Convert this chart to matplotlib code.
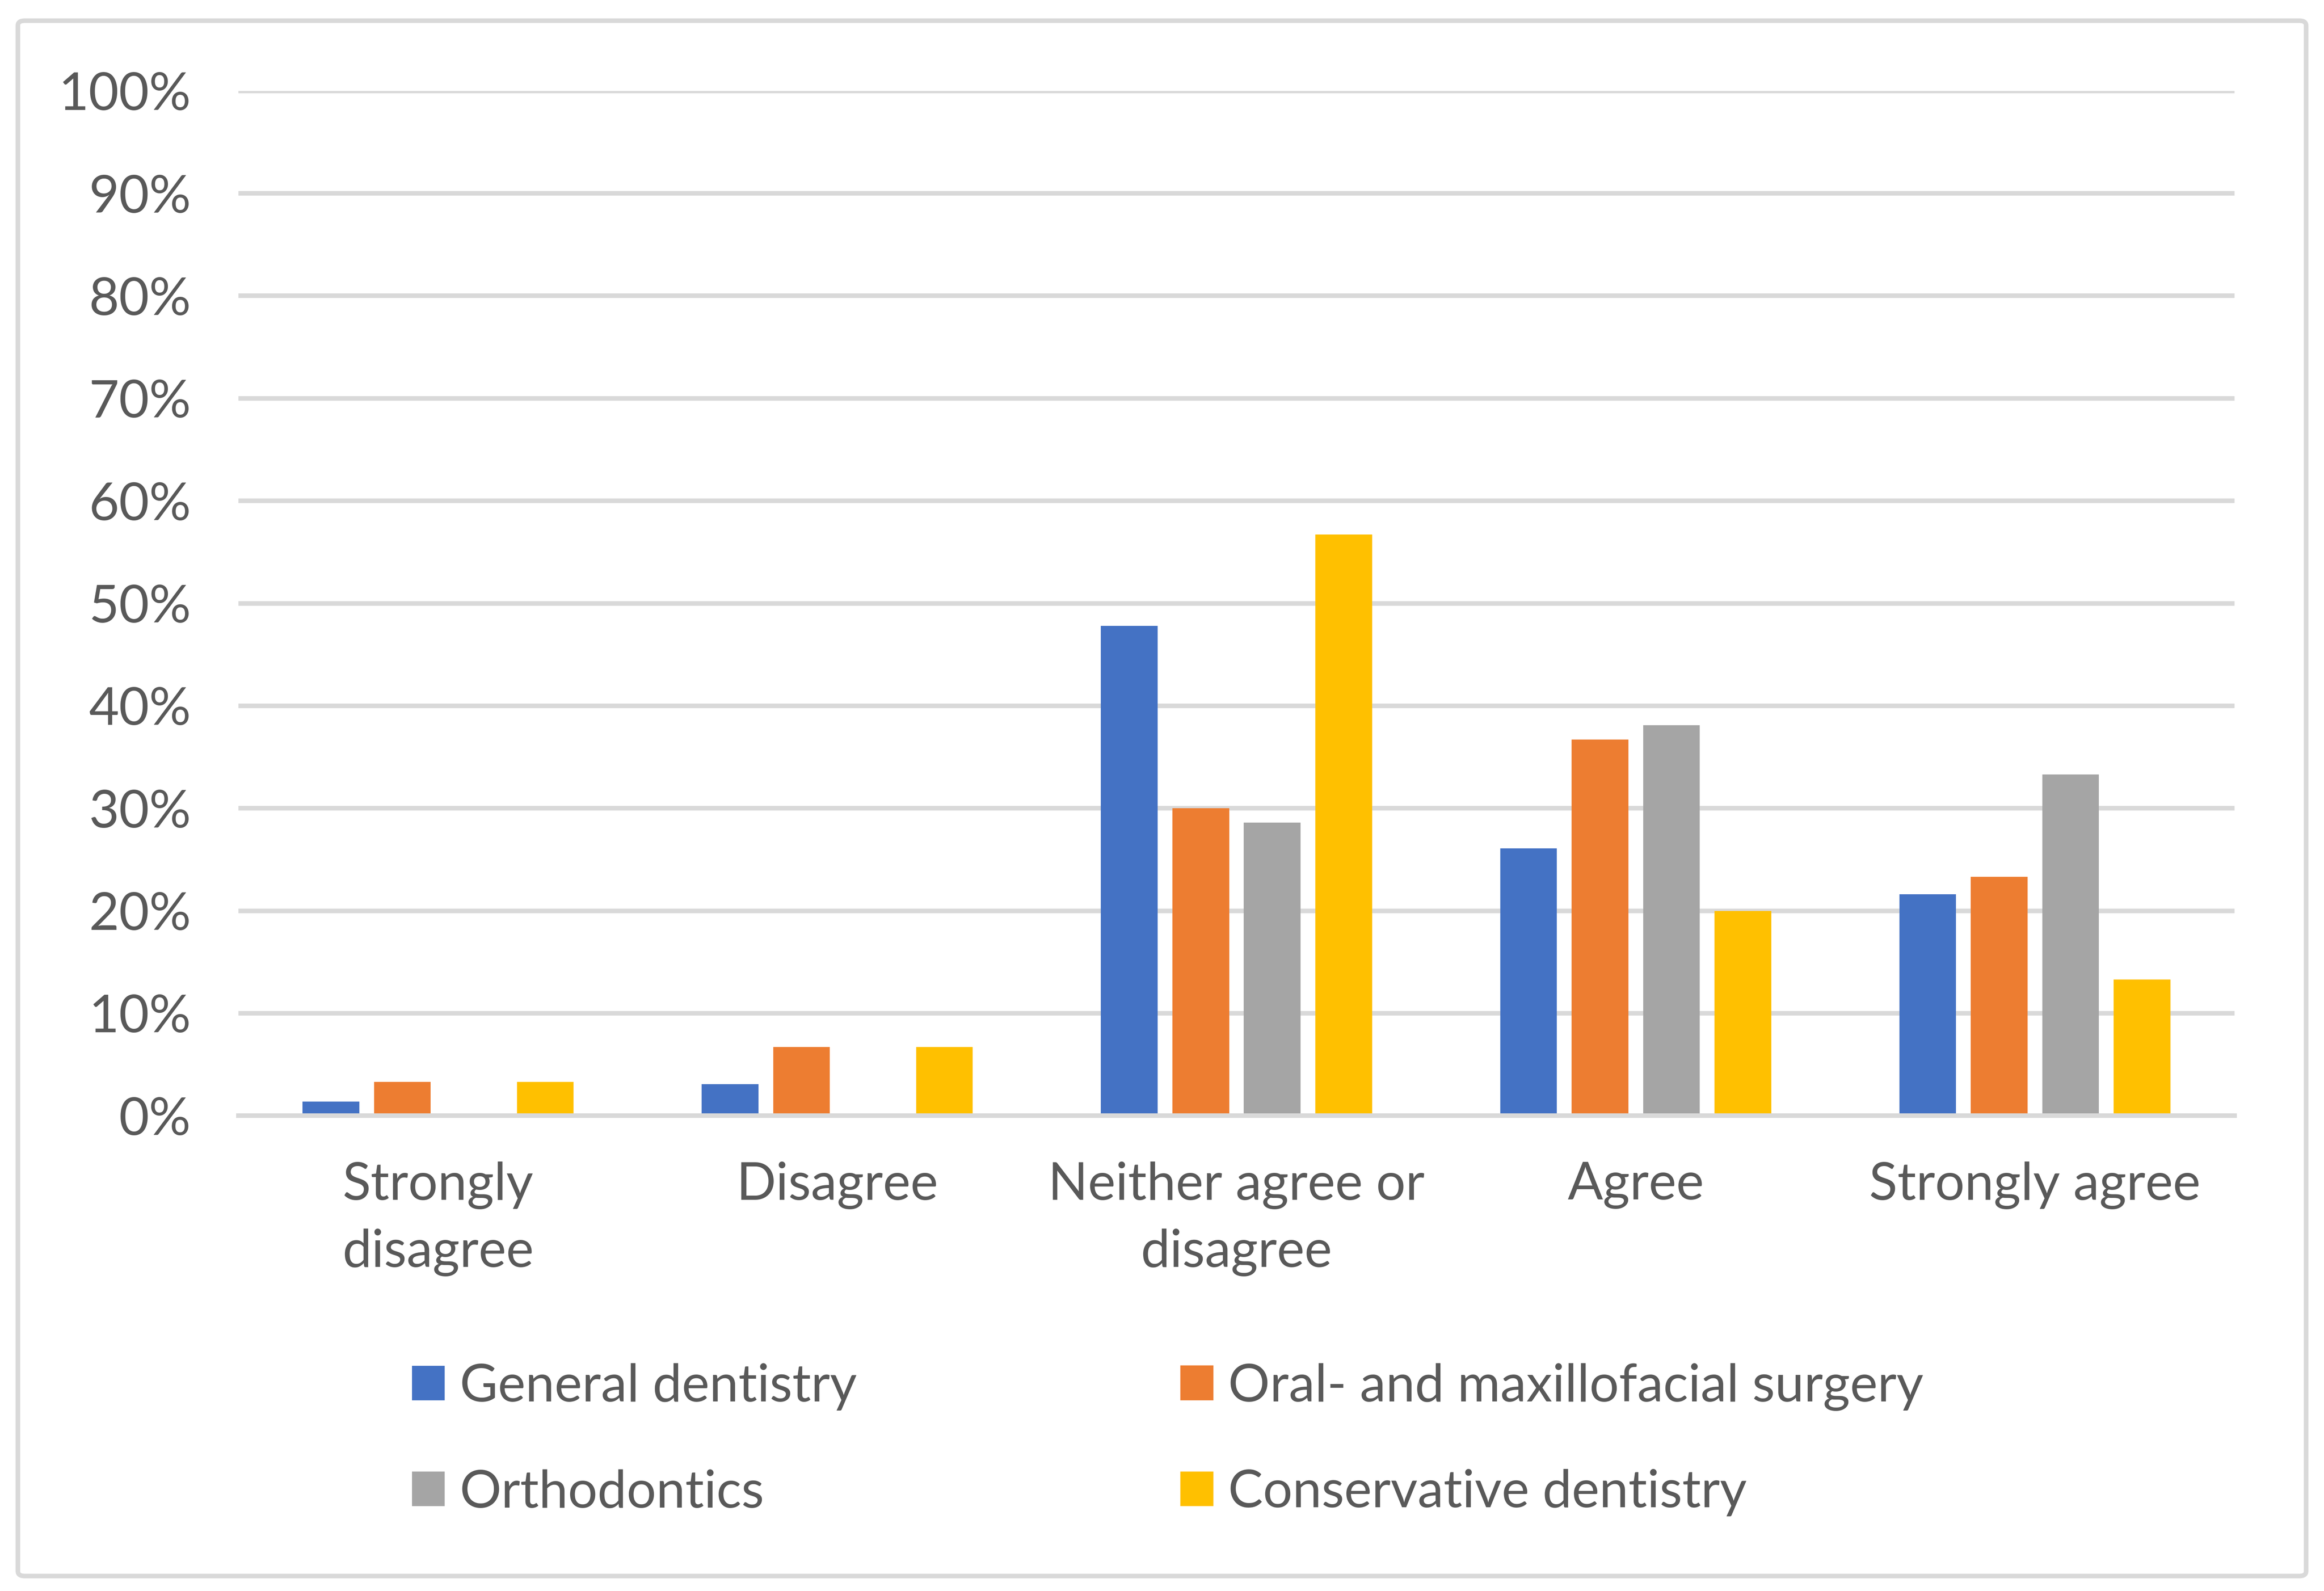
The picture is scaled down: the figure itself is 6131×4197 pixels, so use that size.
import numpy as np
from matplotlib import pyplot as plt
from matplotlib.patches import FancyBboxPatch, Patch
from matplotlib.ticker import PercentFormatter

categories = ['Strongly\ndisagree', 'Disagree', 'Neither agree or\ndisagree',
              'Agree', 'Strongly agree']
series = ['General dentistry', 'Oral- and maxillofacial surgery',
          'Orthodontics', 'Conservative dentistry']
general = [1.4, 3.1, 47.8, 26.1, 21.6]
oral = [3.3, 6.7, 30.0, 36.7, 23.3]
ortho = [0.0, 0.0, 28.6, 38.1, 33.3]
conservative = [3.3, 6.7, 56.7, 20.0, 13.3]
values = [general, oral, ortho, conservative]
colors = ['#4472C4', '#ED7D31', '#A5A5A5', '#FFC000']

txt = '#595959'
grid = '#D9D9D9'
fs = 33
plt.rcParams['font.family'] = ['Lato', 'DejaVu Sans']

fig = plt.figure(figsize=(6131/300, 4197/300), dpi=300)
ax = fig.add_axes([0.1026, 0.2987, 0.9615 - 0.1026, 0.9429 - 0.2987])

x = np.arange(len(categories))
step = 0.179
width = 0.142
for i, (name, v) in enumerate(zip(series, values)):
    ax.bar(x + (i - 1.5)*step, v, width, color=colors[i], label=name)

ax.set_xlim(-0.5, len(categories) - 0.5)
ax.set_ylim(0, 100)
ax.set_yticks(np.arange(0, 101, 10))
ax.yaxis.set_major_formatter(PercentFormatter(100, decimals=0))
ax.set_xticks(x)
ax.set_xticklabels(categories, linespacing=1.5)
ax.tick_params(axis='both', length=0, labelsize=fs, labelcolor=txt)
ax.tick_params(axis='x', pad=29)
ax.tick_params(axis='y', pad=30)
ax.set_axisbelow(True)
ax.grid(axis='y', color=grid, linewidth=2.9)
for s in ['top', 'left', 'right']:
    ax.spines[s].set_visible(False)
ax.spines['bottom'].set_color(grid)
ax.spines['bottom'].set_linewidth(2.9)

# legend entries placed like the Excel layout (2 columns)
spots = [(0.1776, 0.1283), (0.5083, 0.1283), (0.1776, 0.0618), (0.5083, 0.0618)]
for (lx, ly), name, c in zip(spots, series, colors):
    fig.legend(handles=[Patch(color=c, label=name)], loc='center left',
               bbox_to_anchor=(lx, ly), frameon=False, fontsize=fs,
               labelcolor=txt, handlelength=0.6, handleheight=0.6,
               handletextpad=0.3, borderpad=0, borderaxespad=0)

frame = FancyBboxPatch((0.0077, 0.0094), 0.9846, 0.9776,
                       boxstyle='round,pad=0,rounding_size=0.003',
                       transform=fig.transFigure, facecolor='none',
                       edgecolor=grid, linewidth=2.9)
fig.patches.append(frame)

fig.savefig('out.png', dpi=300, facecolor='white')
